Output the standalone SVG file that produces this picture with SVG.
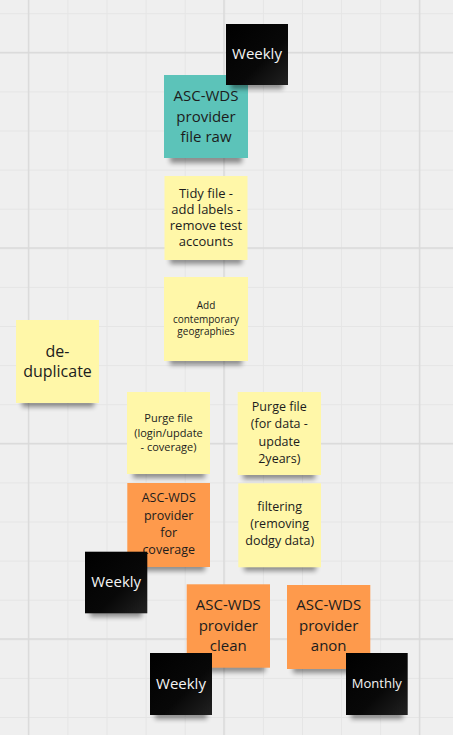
<svg xmlns="http://www.w3.org/2000/svg" width="453" height="735" viewBox="0 0 453 735">
<defs>
<style>
text{font-family:"Open Sans","Noto Sans","Liberation Sans",sans-serif;text-anchor:middle;fill:#1c1c1c}
.w{fill:#f4f4f4}
.yel{fill:#fff7a8}
.org{fill:#fe9a4c}
.teal{fill:#5cc3b9}
.blk{fill:url(#blkg)}
.sh{fill:#000;opacity:.42;filter:url(#blur)}
</style>
<filter id="blur" x="-30%" y="-200%" width="160%" height="500%"><feGaussianBlur stdDeviation="2.6"/></filter>
<linearGradient id="blkg" x1="0" y1="0" x2="1" y2="1">
<stop offset="0" stop-color="#000"/>
<stop offset="0.6" stop-color="#080808"/>
<stop offset="1" stop-color="#222"/>
</linearGradient>
<pattern id="gthin" patternUnits="userSpaceOnUse" x="28.3" y="13.2" width="39.1" height="39.1">
<path d="M0.5 0V39.1M0 0.5H39.1" stroke="#e5e5e5" stroke-width="1" fill="none"/>
</pattern>
<pattern id="gbold" patternUnits="userSpaceOnUse" x="27.8" y="51.8" width="195.5" height="195.5">
<path d="M0.7 0V195.5M0 0.7H195.5" stroke="#d9d9d9" stroke-width="1.4" fill="none"/>
</pattern>
</defs>
<rect width="453" height="735" fill="#efefef"/>
<rect width="453" height="735" fill="url(#gthin)"/>
<rect width="453" height="735" fill="url(#gbold)"/>

<g id="n-raw">
<rect class="sh" x="170" y="150" width="72" height="9" transform="translate(0,4)"/>
<rect class="teal" x="164" y="75" width="84" height="83"/>
<text font-size="15" x="206" y="101.3">ASC-WDS</text>
<text font-size="15" x="206" y="122">provider</text>
<text font-size="15" x="206" y="142">file raw</text>
</g>

<g id="n-weekly-top">
<rect class="sh" x="231" y="77" width="52" height="8" transform="translate(0,4)"/>
<rect class="blk" x="226" y="24" width="62" height="61"/>
<text class="w" font-size="15" x="257" y="59.3">Weekly</text>
</g>

<g id="n-tidy">
<rect class="sh" x="170" y="252" width="72" height="8" transform="translate(0,4)"/>
<rect class="yel" x="164.5" y="176" width="83" height="84"/>
<text font-size="13" x="206" y="197.5">Tidy file -</text>
<text font-size="13" x="206" y="213.5">add labels -</text>
<text font-size="13" x="206" y="229.5">remove test</text>
<text font-size="13" x="206" y="245.5">accounts</text>
</g>

<g id="n-geo">
<rect class="sh" x="170" y="353" width="72" height="8" transform="translate(0,4)"/>
<rect class="yel" x="164" y="277" width="84" height="84"/>
<text font-size="10" x="206" y="309.2">Add</text>
<text font-size="10" x="206" y="322.5">contemporary</text>
<text font-size="10" x="206" y="335.2">geographies</text>
</g>

<g id="n-dedup">
<rect class="sh" x="22" y="395" width="72" height="8" transform="translate(0,4)"/>
<rect class="yel" x="16" y="320" width="83" height="83"/>
<text font-size="16" x="57.5" y="357.3">de-</text>
<text font-size="16" x="57.5" y="376.6">duplicate</text>
</g>

<g id="n-purge-cov">
<rect class="sh" x="133" y="466" width="72" height="8" transform="translate(0,4)"/>
<rect class="yel" x="127" y="392" width="83" height="82"/>
<text font-size="11" x="168.5" y="422">Purge file</text>
<text font-size="11" x="168.5" y="437">(login/update</text>
<text font-size="11" x="168.5" y="450.5">- coverage)</text>
</g>

<g id="n-purge-data">
<rect class="sh" x="243" y="467" width="72" height="8" transform="translate(0,4)"/>
<rect class="yel" x="237.7" y="392" width="83.3" height="83"/>
<text font-size="12.5" x="279.3" y="411">Purge file</text>
<text font-size="12.5" x="279.3" y="428.4">(for data -</text>
<text font-size="12.5" x="279.3" y="446">update</text>
<text font-size="12.5" x="279.3" y="462.5">2years)</text>
</g>

<g id="n-coverage">
<rect class="sh" x="133" y="559" width="72" height="8" transform="translate(0,4)"/>
<rect class="org" x="127.3" y="483" width="82.7" height="84"/>
<text font-size="12.5" x="168.7" y="502">ASC-WDS</text>
<text font-size="12.5" x="168.7" y="520">provider</text>
<text font-size="12.5" x="168.7" y="536.5">for</text>
<text font-size="12.5" x="168.7" y="553.5">coverage</text>
</g>

<g id="n-filter">
<rect class="sh" x="244" y="559" width="72" height="8" transform="translate(0,4)"/>
<rect class="yel" x="238.3" y="483.3" width="82.7" height="84"/>
<text font-size="12.5" x="279.7" y="511">filtering</text>
<text font-size="12.5" x="279.7" y="528.4">(removing</text>
<text font-size="12.5" x="279.7" y="545.4">dodgy data)</text>
</g>

<g id="n-weekly-left">
<rect class="sh" x="90" y="605" width="52" height="8" transform="translate(0,4)"/>
<rect class="blk" x="85" y="551.7" width="62.3" height="61.6"/>
<text class="w" font-size="15" x="116.2" y="587">Weekly</text>
</g>

<g id="n-clean">
<rect class="sh" x="193" y="660" width="72" height="8" transform="translate(0,4)"/>
<rect class="org" x="186.7" y="584.3" width="83.3" height="83.4"/>
<text font-size="15" x="228.3" y="610.3">ASC-WDS</text>
<text font-size="15" x="228.3" y="631.3">provider</text>
<text font-size="15" x="228.3" y="651">clean</text>
</g>

<g id="n-anon">
<rect class="sh" x="293" y="661" width="72" height="8" transform="translate(0,4)"/>
<rect class="org" x="287" y="585" width="83.3" height="84"/>
<text font-size="15" x="328.7" y="610.3">ASC-WDS</text>
<text font-size="15" x="328.7" y="631.3">provider</text>
<text font-size="15" x="328.7" y="651">anon</text>
</g>

<g id="n-weekly-bottom">
<rect class="sh" x="155" y="707" width="52" height="8" transform="translate(0,4)"/>
<rect class="blk" x="150" y="653" width="62" height="62"/>
<text class="w" font-size="15" x="181" y="688.6">Weekly</text>
</g>

<g id="n-monthly">
<rect class="sh" x="351" y="707" width="52" height="8" transform="translate(0,4)"/>
<rect class="blk" x="346" y="653" width="61.7" height="62"/>
<text class="w" font-size="13" x="376.8" y="687.6">Monthly</text>
</g>
</svg>
